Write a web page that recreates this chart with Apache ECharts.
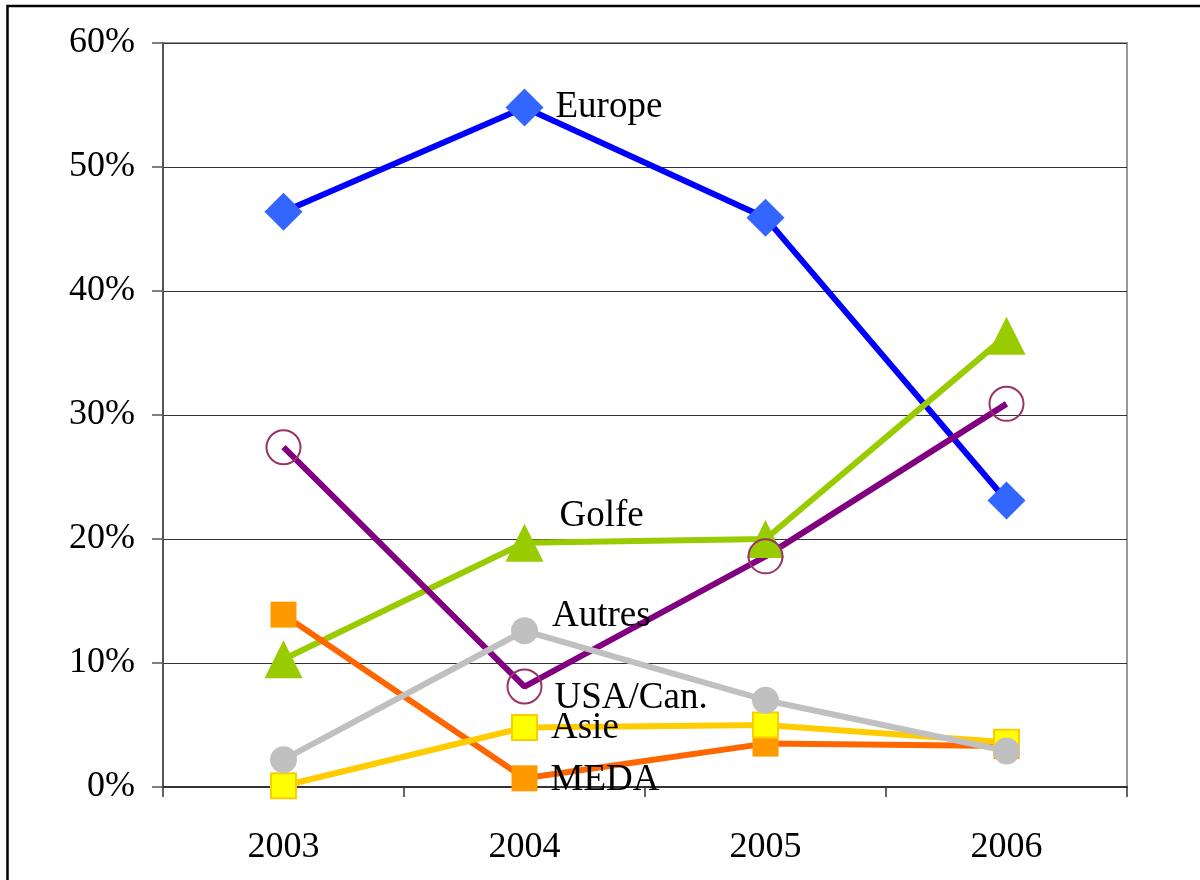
<!DOCTYPE html>
<html>
<head>
<meta charset="utf-8">
<script src="https://cdn.jsdelivr.net/npm/echarts@6/dist/echarts.min.js"></script>
<style>html,body{margin:0;padding:0;background:#fff;}#chart{width:1200px;height:880px;}</style>
</head>
<body>
<div id="chart"></div>
<script>
const categories = ['2003', '2004', '2005', '2006'];
const yTicks = [0, 10, 20, 30, 40, 50, 60];
const europe = [46.4, 54.8, 45.9, 23.1];
const golfe = [10.3, 19.7, 20.0, 36.4];
const usaCan = [27.4, 8.1, 18.6, 30.9];
const meda = [13.9, 0.7, 3.5, 3.3];
const asie = [0.1, 4.8, 5.0, 3.6];
const autres = [2.2, 12.6, 7.0, 2.9];
const seriesNames = ['Europe', 'Golfe', 'USA/Can.', 'MEDA', 'Asie', 'Autres'];

const FONT = 'Liberation Serif';
const labelStyle = {color: '#000', fontFamily: FONT, fontSize: 37};

function withLabel(values, idx, text, offset) {
  return values.map((v, i) => i === idx ? {
    value: v,
    label: Object.assign({show: true, position: 'right', distance: 0, offset: offset, formatter: text}, labelStyle)
  } : v);
}

const chart = echarts.init(document.getElementById('chart'));
chart.setOption({
  animation: false,
  backgroundColor: '#fff',
  graphic: [{
    type: 'rect', z: 100, silent: true,
    shape: {x: 7.5, y: 6, width: 1400, height: 1000},
    style: {fill: 'none', stroke: '#000', lineWidth: 2.5}
  }],
  grid: {left: 163, right: 73, top: 43, bottom: 93, show: true, borderColor: '#999', borderWidth: 2, backgroundColor: '#fff'},
  xAxis: {
    type: 'category', data: categories, boundaryGap: true,
    axisLine: {lineStyle: {color: '#333', width: 2}},
    axisTick: {show: true, length: 10, lineStyle: {color: '#333', width: 1.5}},
    axisLabel: {margin: 43, color: '#000', fontFamily: FONT, fontSize: 36},
    splitLine: {show: false}
  },
  yAxis: {
    type: 'value', min: yTicks[0], max: yTicks[yTicks.length - 1], interval: 10,
    axisLine: {show: true, lineStyle: {color: '#555', width: 2}},
    axisTick: {show: true, length: 11, lineStyle: {color: '#555', width: 1.5}},
    axisLabel: {margin: 28, color: '#000', fontFamily: FONT, fontSize: 36, formatter: '{value}%'},
    splitLine: {show: true, lineStyle: {color: '#333', width: 1}}
  },
  series: [
    {
      name: seriesNames[0], type: 'line', data: withLabel(europe, 1, 'Europe', [12, 0]),
      symbol: 'diamond', symbolSize: 38,
      lineStyle: {color: '#0000FF', width: 6},
      itemStyle: {color: '#3366FF', borderWidth: 0}
    },
    {
      name: seriesNames[1], type: 'line', data: withLabel(golfe, 1, 'Golfe', [16, -26]),
      symbol: 'triangle', symbolSize: 38,
      lineStyle: {color: '#99CC00', width: 6},
      itemStyle: {color: '#99CC00', borderWidth: 0}
    },
    {
      name: seriesNames[2], type: 'line', data: withLabel(usaCan, 1, 'USA/Can.', [12, 12]),
      symbol: 'circle', symbolSize: 34,
      lineStyle: {color: '#800080', width: 6},
      itemStyle: {color: 'rgba(0,0,0,0)', borderColor: '#993366', borderWidth: 2}
    },
    {
      name: seriesNames[3], type: 'line', data: withLabel(meda, 1, 'MEDA', [13, 2]),
      symbol: 'rect', symbolSize: 26,
      lineStyle: {color: '#FF6600', width: 6},
      itemStyle: {color: '#FF9900', borderWidth: 0}
    },
    {
      name: seriesNames[4], type: 'line', data: withLabel(asie, 1, 'Asie', [13, 1]),
      symbol: 'rect', symbolSize: 25,
      lineStyle: {color: '#FFCC00', width: 6},
      itemStyle: {color: '#FFFF00', borderColor: '#FFCC00', borderWidth: 2}
    },
    {
      name: seriesNames[5], type: 'line', data: withLabel(autres, 1, 'Autres', [14, -14]),
      symbol: 'circle', symbolSize: 27,
      lineStyle: {color: '#C0C0C0', width: 6},
      itemStyle: {color: '#C0C0C0', borderWidth: 0}
    }
  ]
});
</script>
</body>
</html>
